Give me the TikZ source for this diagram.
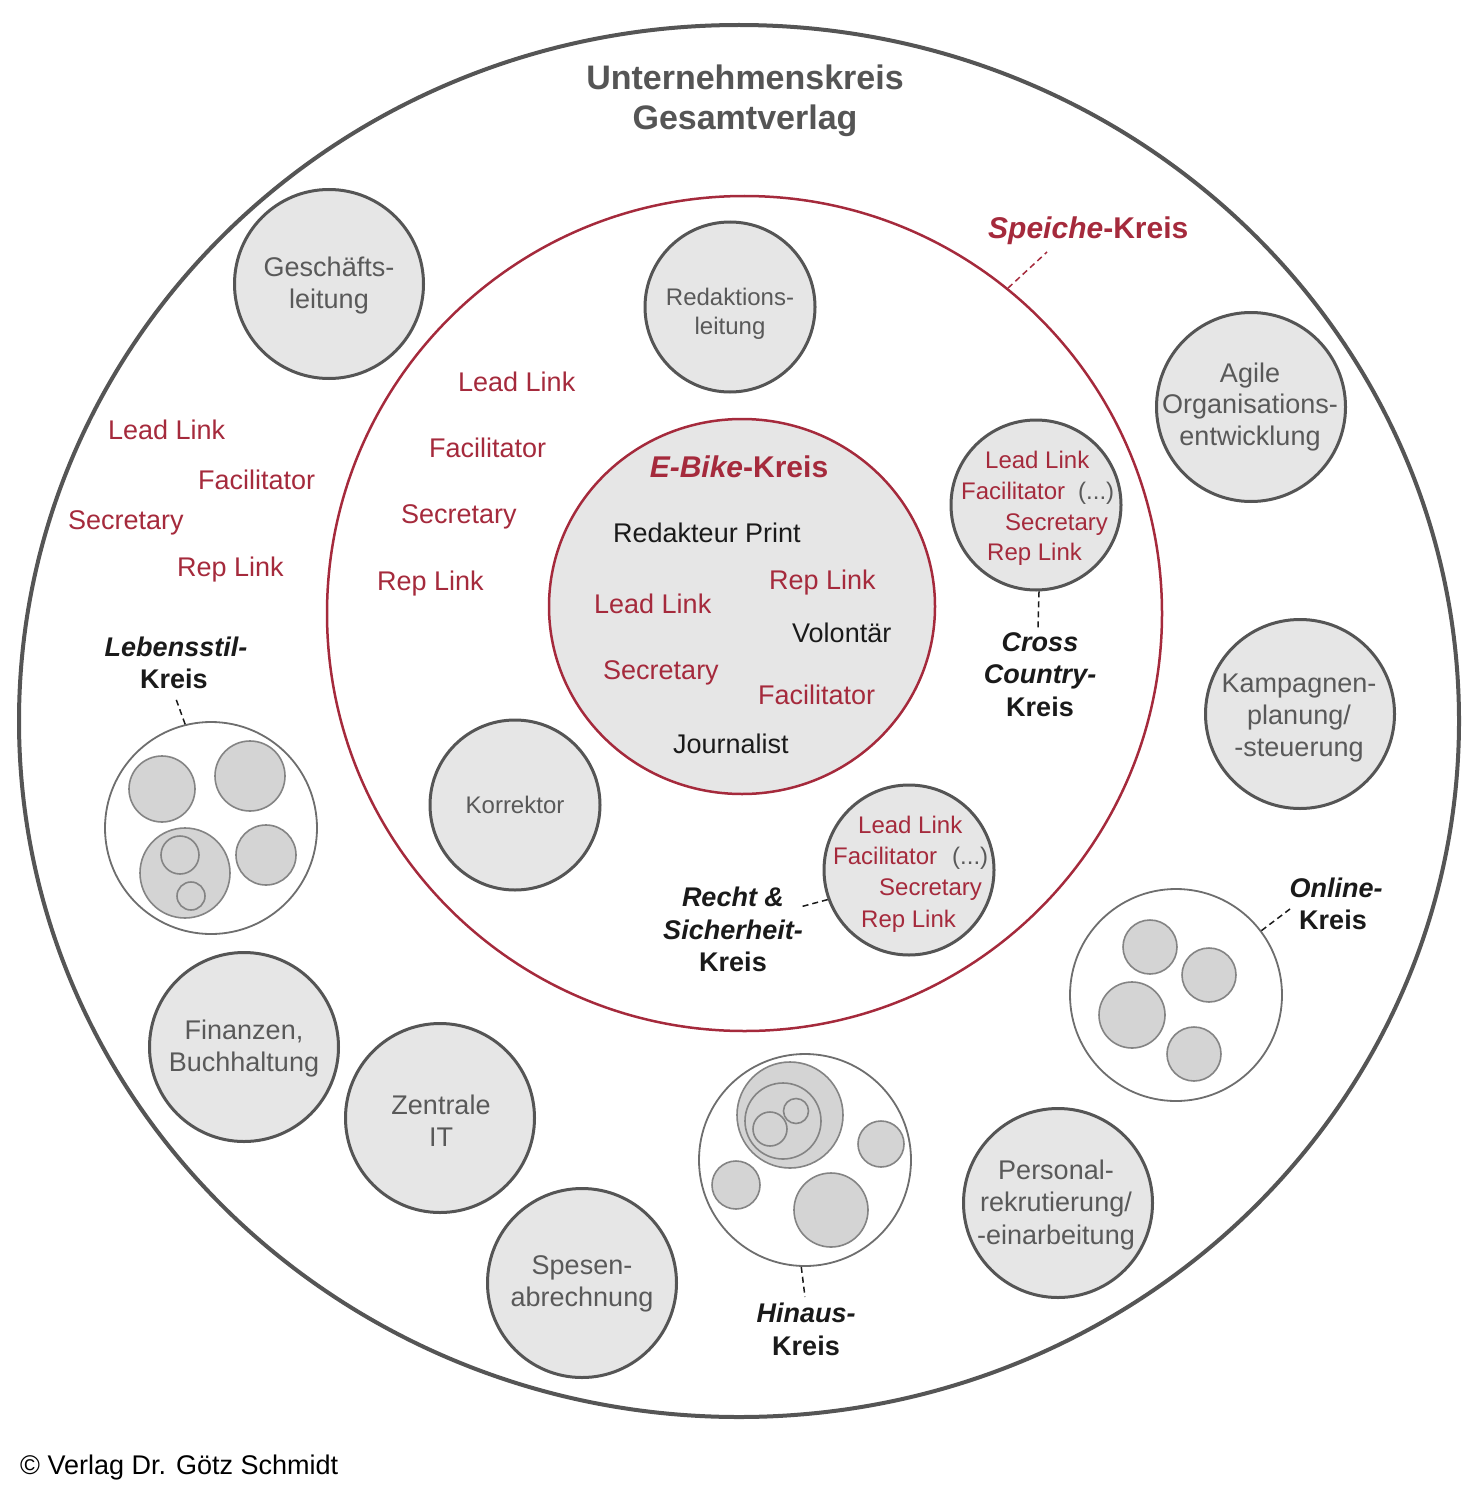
\documentclass[tikz,border=0pt]{standalone}
\usepackage{fontspec}
\setmainfont{Liberation Sans}
\usetikzlibrary{shapes.geometric}
\definecolor{hred}{HTML}{A52A3C}
\definecolor{hgray}{HTML}{555555}
\definecolor{tgray}{HTML}{595959}
\definecolor{cfill}{HTML}{E6E6E6}
\definecolor{sfill}{HTML}{D4D4D4}
\definecolor{sline}{HTML}{848484}
\definecolor{cline}{HTML}{6E6E6E}
\definecolor{tblack}{HTML}{1A1A1A}
\begin{document}
\begin{tikzpicture}[x=1pt,y=-1pt,
  unit/.style={circle,draw=hgray,line width=3pt,fill=cfill,inner sep=0pt,minimum size=#1},
  cluster/.style={circle,draw=cline,line width=1.8pt,fill=white,inner sep=0pt,minimum size=#1},
  sub/.style={circle,draw=sline,line width=1.6pt,fill=sfill,inner sep=0pt,minimum size=#1},
  txt/.style={inner sep=0pt,anchor=base,font=\fontsize{27}{32}\selectfont,text=tgray},
  stxt/.style={inner sep=0pt,anchor=base,font=\fontsize{24}{29}\selectfont,text=tgray},
  role/.style={inner sep=0pt,anchor=base west,font=\fontsize{27}{32}\selectfont,text=hred},
  srole/.style={inner sep=0pt,anchor=base west,font=\fontsize{24}{29}\selectfont,text=hred},
  dots/.style={inner sep=0pt,anchor=base west,font=\fontsize{24}{29}\selectfont,text=tgray},
  blk/.style={inner sep=0pt,anchor=base west,font=\fontsize{27}{32}\selectfont,text=tblack},
  lab/.style={inner sep=0pt,anchor=base,font=\bfseries\fontsize{27}{32}\selectfont,text=tblack},
  leader/.style={line width=1.5pt,dash pattern=on 6pt off 4pt,draw=tblack},
]
\useasboundingbox (0,0) rectangle (1475,1490);

% main circles
\node[ellipse,draw=hgray,line width=4pt,inner sep=0pt,minimum width=1440pt,minimum height=1392pt] (outer) at (739,721) {};
\node[circle,draw=hred,line width=2.5pt,inner sep=0pt,minimum size=835pt] (sp) at (744.5,613.5) {};
\node[ellipse,draw=hred,line width=2.5pt,fill=cfill,inner sep=0pt,minimum width=386pt,minimum height=375pt] (eb) at (742,606.5) {};

% title
\node[inner sep=0pt,anchor=base,font=\bfseries\fontsize{34}{40}\selectfont,text=hgray] (t1) at (745,90) {Unternehmenskreis};
\node[inner sep=0pt,anchor=base,font=\bfseries\fontsize{34}{40}\selectfont,text=hgray] (t2) at (745,130) {Gesamtverlag};

% Speiche label
\node[inner sep=0pt,anchor=base west,font=\bfseries\fontsize{30}{36}\selectfont,text=hred] (splab) at (988,238) {\textit{Speiche}-Kreis};
\coordinate (spend) at (1047,252);
\draw[leader,draw=hred] (sp.51) -- (spend);

% E-Bike circle content
\node[inner sep=0pt,anchor=base,font=\bfseries\fontsize{30}{36}\selectfont,text=hred] (eblab) at (739,477) {\textit{E-Bike}-Kreis};
\node[blk] (eb1) at (613,542) {Redakteur Print};
\node[role] (eb2) at (769,589) {Rep Link};
\node[role] (eb3) at (594,613) {Lead Link};
\node[blk] (eb4) at (792,642) {Volontär};
\node[role] (eb5) at (603,679) {Secretary};
\node[role] (eb6) at (758,704) {Facilitator};
\node[blk] (eb7) at (673,753) {Journalist};

% roles of the outer circle
\node[role] (o1) at (108,439) {Lead Link};
\node[role] (o2) at (198,489) {Facilitator};
\node[role] (o3) at (68,529) {Secretary};
\node[role] (o4) at (177,576) {Rep Link};

% roles of the Speiche circle
\node[role] (s1) at (458,391) {Lead Link};
\node[role] (s2) at (429,457) {Facilitator};
\node[role] (s3) at (401,523) {Secretary};
\node[role] (s4) at (377,590) {Rep Link};

% role circles (outer ring)
\node[unit=189pt] (gl) at (329,284) {};
\node[txt] (gl1) at (329,276) {Geschäfts-};
\node[txt] (gl2) at (329,308) {leitung};

\node[unit=189pt] (ao) at (1251,407) {};
\node[txt] (ao1) at (1250,382) {Agile};
\node[txt] (ao2) at (1250,413) {Organisations-};
\node[txt] (ao3) at (1250,445) {entwicklung};

\node[unit=189pt] (kp) at (1300,714) {};
\node[txt] (kp1) at (1299,692) {Kampagnen-};
\node[txt] (kp2) at (1299,724) {planung/};
\node[txt] (kp3) at (1299,756) {-steuerung};

\node[unit=189pt] (fb) at (244,1047) {};
\node[txt] (fb1) at (244,1039) {Finanzen,};
\node[txt] (fb2) at (244,1071) {Buchhaltung};

\node[unit=189pt] (zi) at (440,1118) {};
\node[txt] (zi1) at (441,1114) {Zentrale};
\node[txt] (zi2) at (441,1146) {IT};

\node[unit=189pt] (se) at (582,1283) {};
\node[txt] (se1) at (582,1274) {Spesen-};
\node[txt] (se2) at (582,1306) {abrechnung};

\node[unit=189pt] (pr) at (1058,1203) {};
\node[txt] (pr1) at (1056,1179) {Personal-};
\node[txt] (pr2) at (1056,1211) {rekrutierung/};
\node[txt] (pr3) at (1056,1244) {-einarbeitung};

% role circles (Speiche ring)
\node[unit=170pt] (rl) at (730,307) {};
\node[stxt] (rl1) at (730,305) {Redaktions-};
\node[stxt] (rl2) at (730,334) {leitung};

\node[unit=170pt] (ko) at (515,805) {};
\node[stxt] (ko1) at (515,813) {Korrektor};

% Cross Country circle
\node[unit=170pt] (cc) at (1036,505) {};
\node[srole] (cc1) at (985,468) {Lead Link};
\node[srole] (cc2) at (961,499) {Facilitator};
\node[dots] (cc2d) at (1078,499) {(...)};
\node[srole] (cc3) at (1005,530) {Secretary};
\node[srole] (cc4) at (987,560) {Rep Link};
\coordinate (ccend) at (1038,628);
\draw[leader] (cc.-88) -- (ccend);
\node[lab] (ccl1) at (1040,651) {\textit{Cross}};
\node[lab] (ccl2) at (1040,683) {\textit{Country-}};
\node[lab] (ccl3) at (1040,716) {Kreis};

% Recht & Sicherheit circle
\node[unit=170pt] (rs) at (909,870) {};
\node[srole] (rs1) at (858,833) {Lead Link};
\node[srole] (rs2) at (833,864) {Facilitator};
\node[dots] (rs2d) at (952,864) {(...)};
\node[srole] (rs3) at (879,895) {Secretary};
\node[srole] (rs4) at (861,927) {Rep Link};
\coordinate (rsend) at (800,907);
\draw[leader] (rs.200) -- (rsend);
\node[lab] (rsl1) at (733,906) {\textit{Recht \&}};
\node[lab] (rsl2) at (733,939) {\textit{Sicherheit-}};
\node[lab] (rsl3) at (733,971) {Kreis};

% Lebensstil cluster
\node[cluster=212pt] (ls) at (211,828) {};
\node[sub=66pt] (ls1) at (162,789) {};
\node[sub=70pt] (ls2) at (250,776) {};
\node[sub=90pt] (ls3) at (185,873) {};
\node[sub=38pt] (ls3a) at (180,855) {};
\node[sub=28pt] (ls3b) at (191,896) {};
\node[sub=60pt] (ls4) at (266,855) {};
\coordinate (lsend) at (176,699);
\draw[leader] (ls.104) -- (lsend);
\node[lab] (lsl1) at (176,656) {\textit{Lebensstil-}};
\node[lab] (lsl2) at (174,688) {Kreis};

% Hinaus cluster
\node[cluster=212pt] (hi) at (805,1160) {};
\node[sub=106pt] (hi1) at (790,1115) {};
\node[sub=76pt] (hi1a) at (783,1121) {};
\node[sub=25pt] (hi1b) at (796,1111) {};
\node[sub=34pt] (hi1c) at (770,1129) {};
\node[sub=46pt] (hi2) at (881,1144) {};
\node[sub=48pt] (hi3) at (736,1185) {};
\node[sub=74pt] (hi4) at (831,1210) {};
\coordinate (hiend) at (805,1297);
\draw[leader] (hi.268) -- (hiend);
\node[lab] (hil1) at (806,1322) {\textit{Hinaus-}};
\node[lab] (hil2) at (806,1355) {Kreis};

% Online cluster
\node[cluster=212pt] (on) at (1176,995) {};
\node[sub=54pt] (on1) at (1150,947) {};
\node[sub=54pt] (on2) at (1209,975) {};
\node[sub=66pt] (on3) at (1132,1015) {};
\node[sub=54pt] (on4) at (1194,1054) {};
\coordinate (onend) at (1290,909);
\draw[leader] (on.37) -- (onend);
\node[lab] (onl1) at (1336,897) {\textit{Online-}};
\node[lab] (onl2) at (1333,929) {Kreis};

% copyright
\node[inner sep=0pt,anchor=base west,font=\fontsize{27}{32}\selectfont,text=black] (copy) at (20,1474) {© Verlag Dr. Götz Schmidt};
\end{tikzpicture}
\end{document}
